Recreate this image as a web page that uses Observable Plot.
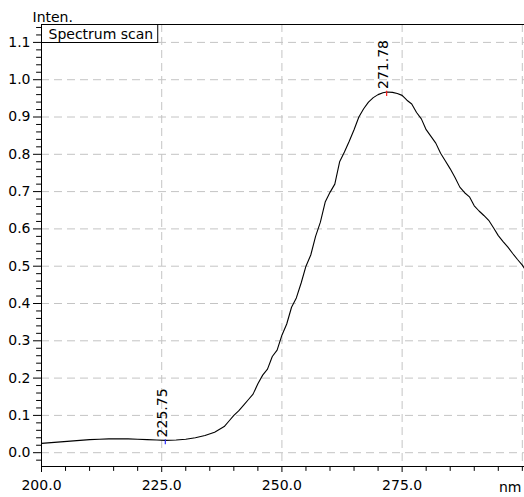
<!DOCTYPE html>
<html><head><meta charset="utf-8">
<script src="https://cdn.jsdelivr.net/npm/d3@7"></script>
<script src="https://cdn.jsdelivr.net/npm/@observablehq/plot@0.6"></script>
<style>html,body{margin:0;padding:0;background:#fff}</style>
</head><body><div id="chart"></div>
<script>
const wavelength = [200,202,204,206,208,210,212,214,216,218,220,222,224,225.75,228,230,232,234,236,238,239,240,241,242,243,244,245,246,247,248,249,250,251,252,253,254,255,256,257,258,259,260,261,262,263,264,265,266,267,268,269,270,271,271.78,273,274,275,276,277,278,279,280,281,282,283,284,285,286,287,288,289,290,291,292,293,294,295,296,297,298,299,300,300.45];
const intensity = [0.025,0.027,0.029,0.031,0.033,0.035,0.036,0.037,0.037,0.037,0.036,0.035,0.034,0.033,0.034,0.036,0.040,0.046,0.055,0.070,0.085,0.100,0.112,0.127,0.142,0.157,0.185,0.208,0.224,0.258,0.275,0.315,0.345,0.390,0.415,0.455,0.500,0.530,0.580,0.618,0.672,0.698,0.720,0.780,0.806,0.835,0.866,0.900,0.922,0.940,0.952,0.960,0.965,0.967,0.966,0.963,0.958,0.945,0.935,0.912,0.895,0.866,0.848,0.830,0.803,0.782,0.761,0.738,0.712,0.697,0.686,0.662,0.648,0.636,0.623,0.603,0.582,0.566,0.551,0.534,0.518,0.503,0.494];

const peakWavelengths = [271.78, 225.75];
const peakValues = [0.967, 0.033];
const peakLabels = ["271.78", "225.75"];
const peakColors = ["#ff2020", "#3030ff"];

const xDomain = [200, 300.45];
const yDomain = [-0.037, 1.148];
const xTickValues = [200, 225, 250, 275];
const xTickLabels = ["200.0", "225.0", "250.0", "275.0"];
const xGridValues = [225, 250, 275, 300];
const xMinorTicks = [205,210,215,220,230,235,240,245,255,260,265,270,280,285,290,295,300];
const yTickValues = [0, 0.1, 0.2, 0.3, 0.4, 0.5, 0.6, 0.7, 0.8, 0.9, 1.0, 1.1];
const yTickLabels = ["0.0","0.1","0.2","0.3","0.4","0.5","0.6","0.7","0.8","0.9","1.0","1.1"];
const yMinorTicks = [-0.02,0.02,0.04,0.06,0.08,0.12,0.14,0.16,0.18,0.22,0.24,0.26,0.28,0.32,0.34,0.36,0.38,0.42,0.44,0.46,0.48,0.52,0.54,0.56,0.58,0.62,0.64,0.66,0.68,0.72,0.74,0.76,0.78,0.82,0.84,0.86,0.88,0.92,0.94,0.96,0.98,1.02,1.04,1.06,1.08,1.12,1.14];

const spectrum = wavelength.map((w, i) => ({w, v: intensity[i]}));
const peaks = peakWavelengths.map((w, i) => ({w, v: peakValues[i], label: peakLabels[i], c: peakColors[i]}));
const xLab = new Map(xTickValues.map((d, i) => [d, xTickLabels[i]]));
const yLab = new Map(yTickValues.map((d, i) => [d, yTickLabels[i]]));

const grid = {stroke: "#c4c4c4", strokeOpacity: 1, strokeDasharray: "8,5", strokeWidth: 1};
const tickShape = {draw(context, l) { context.moveTo(0, 0); context.lineTo(0, -l); }};

const chart = Plot.plot({
  width: 524, height: 497,
  marginLeft: 41, marginRight: 0, marginTop: 24, marginBottom: 31,
  x: {domain: xDomain},
  y: {domain: yDomain},
  color: {type: "identity"},
  style: {fontFamily: "DejaVu Sans", fontSize: "14px", color: "#000", background: "#fff"},
  marks: [
    Plot.gridY(yTickValues, grid),
    Plot.gridX(xGridValues, grid),
    Plot.vector(yMinorTicks, {x: xDomain[0], y: d => d, length: 5, rotate: -90, anchor: "start", shape: tickShape, stroke: "#000", strokeWidth: 1}),
    Plot.vector(xMinorTicks, {x: d => d, y: yDomain[0], length: 4, rotate: 180, anchor: "start", shape: tickShape, stroke: "#000", strokeWidth: 1}),
    Plot.axisY(yTickValues, {tickSize: 8, tickPadding: 3, tickFormat: d => yLab.get(d), label: null, stroke: "#000", fill: "#000"}),
    Plot.axisX(xTickValues, {tickSize: 6, tickPadding: 8, tickFormat: d => xLab.get(d), label: null, stroke: "#000", fill: "#000"}),
    Plot.ruleX([xDomain[0]], {stroke: "#000"}),
    Plot.ruleY([yDomain[0]], {stroke: "#000"}),
    Plot.ruleY([yDomain[1]], {stroke: "#000"}),
    Plot.line(spectrum, {x: "w", y: "v", stroke: "#000", strokeWidth: 1.1}),
    Plot.ruleX(peaks, {x: "w", y1: d => d.v - 0.012, y2: d => d.v + 0.002, stroke: "c", strokeWidth: 1.2}),
    Plot.text(peaks, {x: "w", y: "v", text: "label", rotate: -90, textAnchor: "start", lineAnchor: "middle", dx: -3, dy: -3, fill: "#000"}),
    Plot.text(["Inten."], {text: d => d, frameAnchor: "top-left", textAnchor: "start", lineAnchor: "bottom", dx: -9, dy: -3, fill: "#000"}),
    Plot.text(["nm"], {text: d => d, frameAnchor: "bottom-right", textAnchor: "end", lineAnchor: "bottom", dx: -3, dy: 25, fill: "#000"}),
    Plot.text(["Spectrum scan"], {text: d => d, frameAnchor: "top-left", textAnchor: "start", lineAnchor: "bottom", dx: 7, dy: 14, fill: "#000"})
  ]
});
document.getElementById("chart").appendChild(chart);

// legend box around the "Spectrum scan" label
(function () {
  const xs = chart.scale("x"), ys = chart.scale("y");
  const frameLeft = xs.apply(xDomain[0]), frameTop = ys.apply(yDomain[1]);
  const t = Array.from(chart.querySelectorAll("text")).find(e => e.textContent === "Spectrum scan");
  if (t) {
    const sb = chart.getBoundingClientRect();
    const b = t.getBoundingClientRect();
    const right = b.right - sb.left;
    const ns = "http://www.w3.org/2000/svg";
    const r = document.createElementNS(ns, "rect");
    r.setAttribute("x", frameLeft + 0.5);
    r.setAttribute("y", frameTop + 0.5);
    r.setAttribute("width", right + 4 - frameLeft);
    r.setAttribute("height", 18);
    r.setAttribute("fill", "#fff");
    r.setAttribute("stroke", "#000");
    r.setAttribute("stroke-width", 1);
    const g = t.closest("g");
    g.parentNode.insertBefore(r, g);
  }
})();
</script>
</body></html>
